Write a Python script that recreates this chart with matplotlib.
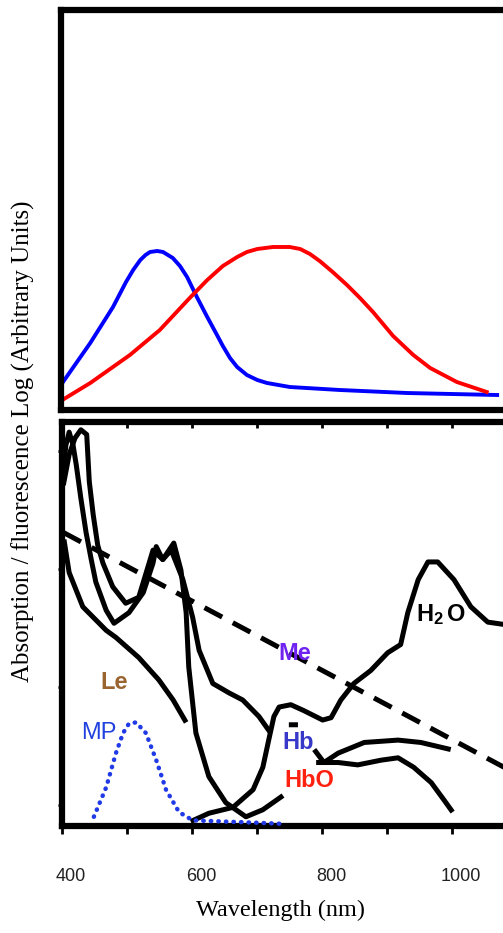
import numpy as np
import matplotlib.pyplot as plt
from matplotlib.transforms import ScaledTranslation

plt.rcParams['font.family'] = ['Liberation Sans', 'DejaVu Sans']
plt.rcParams['mathtext.fontset'] = 'custom'
plt.rcParams['mathtext.bf'] = 'Liberation Sans:bold'
plt.rcParams['mathtext.rm'] = 'Liberation Sans'

nan = np.nan

# top panel: two fluorescence emission curves (log, arbitrary units)
blue_nm = [402, 445, 480, 500, 511, 522, 530, 537, 548, 557, 572, 583, 594, 609, 625,
           640, 649, 660, 671, 686, 702, 717, 752, 829, 932, 1071]
blue_val = [0.27, 0.67, 1.03, 1.28, 1.40, 1.50, 1.55, 1.58, 1.59, 1.58, 1.52, 1.44, 1.33, 1.13, 0.93,
            0.75, 0.64, 0.52, 0.43, 0.35, 0.30, 0.27, 0.23, 0.20, 0.17, 0.15]

red_nm = [402, 445, 506, 552, 598, 625, 649, 671, 686, 702, 726, 752, 768, 783, 798, 818, 840,
          860, 880, 911, 942, 968, 1009, 1055]
red_val = [0.10, 0.27, 0.55, 0.80, 1.12, 1.30, 1.44, 1.53, 1.58, 1.61, 1.63, 1.63, 1.61, 1.56, 1.49, 1.38, 1.25,
           1.12, 0.98, 0.74, 0.55, 0.42, 0.28, 0.18]

# bottom panel: absorption spectra (log, arbitrary units), nan = break in the trace
hbo_nm = [402, 406, 411, 417, 422, 429, 437, 445, 452, 468, 480, 503, 525, 540, 545, 555, 572,
          583, 591, 595, 606, 626, 652, 683, 709, 740, nan, 791, 803, 825, 865, 917, 952, 998]
hbo_val = [2.84, 3.05, 3.16, 3.05, 2.88, 2.60, 2.31, 2.08, 1.89, 1.65, 1.54, 1.63, 1.80, 2.05, 2.19, 2.08, 2.22,
           1.99, 1.63, 1.17, 0.61, 0.24, 0.02, -0.10, -0.04, 0.08, nan, 0.36, 0.36, 0.44, 0.53, 0.55, 0.53, 0.47]

hb_nm = [402, 411, 420, 429, 438, 442, 448, 455, 463, 478, 498, 518, 534, 540, 555, 568, 586, 601, 611,
         632, 657, 678, 703, 721, nan, 749, 763, nan, 788, 803, 825, 855, 891, 917, 941, 968, 988, 1001]
hb_val = [2.71, 2.97, 3.11, 3.18, 3.14, 2.74, 2.46, 2.20, 2.05, 1.85, 1.71, 1.76, 2.05, 2.16, 2.08, 2.16, 1.91, 1.59, 1.31,
          1.03, 0.95, 0.89, 0.75, 0.61, nan, 0.68, 0.68, nan, 0.47, 0.36, 0.36, 0.34, 0.38, 0.40, 0.32, 0.19, 0.04, -0.06]

h2o_nm = [598, 626, 663, 694, 709, 718, 726, 734, 752, 772, 801, 814, 829, 849, 875, 901, 921,
          932, 948, 963, 978, 1003, 1029, 1055, 1080, 1106]
h2o_val = [-0.14, -0.07, -0.02, 0.13, 0.32, 0.55, 0.75, 0.83, 0.85, 0.80, 0.72, 0.74, 0.89, 1.03, 1.14, 1.29, 1.36,
           1.63, 1.91, 2.06, 2.06, 1.91, 1.68, 1.55, 1.53, 1.53]

le_nm = [403, 411, 432, 468, 483, 518, 549, 571, 591]
le_val = [2.25, 1.97, 1.68, 1.48, 1.42, 1.25, 1.06, 0.89, 0.70]

me_nm = [402, 1080]
me_val = [2.31, 0.32]

mp_nm = [449, 468, 483, 494, 503, 514, 529, 545, 560, 580, 601, 648, 698, 741]
mp_val = [-0.10, 0.15, 0.44, 0.61, 0.69, 0.70, 0.61, 0.38, 0.13, -0.06, -0.13, -0.14, -0.15, -0.16]

xticks = [400, 500, 600, 700, 800, 900, 1000, 1100]
xticklabels = ['400', '', '600', '', '800', '', '1000', '']

W, H = 503, 933
fig = plt.figure(figsize=(W / 100, H / 100), dpi=100)

# ---- top panel
ax1 = fig.add_axes([61 / W, 1 - 410 / H, 455 / W, 400 / H])
ax1.plot(blue_nm, blue_val, color='#0000ff', lw=2.8, solid_joinstyle='round')
ax1.plot(red_nm, red_val, color='#ff0000', lw=2.8, solid_joinstyle='round')
ax1.set_xlim(400, 1100)
ax1.set_ylim(0, 4)
ax1.set_xticks([])
ax1.set_yticks([])
for s in ax1.spines.values():
    s.set_linewidth(4.5)

# ---- bottom panel
ax2 = fig.add_axes([62 / W, 1 - 826 / H, 455 / W, 404 / H])
blk = dict(color='black', lw=3.6, solid_capstyle='butt', solid_joinstyle='round')
ax2.plot(hbo_nm, hbo_val, **blk)
ax2.plot(hb_nm, hb_val, **blk)
ax2.plot(h2o_nm, h2o_val, **blk)
ax2.plot(le_nm, le_val, **blk)
ax2.plot(me_nm, me_val, color='black', lw=3.6, linestyle=(0, (4, 2.4)), dash_capstyle='butt')
ax2.plot(mp_nm, mp_val, color='#1f3ae6', lw=3.2, linestyle=(0, (0.1, 1.6)),
         dash_capstyle='round', clip_on=False, zorder=5)

ax2.set_xlim(400, 1100)
ax2.set_ylim(-0.178, 3.246)
ax2.set_xticks(xticks)
ax2.set_xticklabels(xticklabels)
ax2.set_yticks([0, 1, 2, 3])
ax2.tick_params(axis='x', which='major', direction='out', length=6, width=2,
                labelsize=13, pad=24, colors='black', labelcolor='#222222', top=True)
ax2.tick_params(axis='y', direction='out', length=3, width=2, labelleft=False)
for s in ax2.spines.values():
    s.set_linewidth(4.5)
# top ticks point inward
for t in ax2.xaxis.get_major_ticks():
    t.tick2line.set_marker(3)
    t.tick2line.set_markersize(4)

offset = ScaledTranslation(9 / 100, 0, fig.dpi_scale_trans)
for lbl in ax2.get_xticklabels():
    lbl.set_transform(lbl.get_transform() + offset)

lab = dict(fontsize=17, fontweight='bold', ha='center', va='center')
ax2.text(480, 1.04, 'Le', color='#9a6430', **lab)
ax2.text(457, 0.61, 'MP', color='#2040e0', fontsize=17, ha='center', va='center')
ax2.text(758, 1.28, 'Me', color='#7022f0', **lab)
ax2.text(763, 0.53, 'Hb', color='#3838c8', **lab)
ax2.text(780, 0.21, 'HbO', color='#ff2010', **lab)
ax2.text(983, 1.61, r'$\mathbf{H_2\,O}$', color='black', fontsize=17, ha='center', va='center')

fig.text(280 / W, 1 - 910 / H, 'Wavelength (nm)', family='Liberation Serif',
         fontsize=17.5, ha='center', va='center')
fig.text(23 / W, 1 - 441 / H, 'Absorption / fluorescence Log (Arbitrary Units)',
         family='Liberation Serif', fontsize=18, rotation=90, ha='center', va='center')

fig.savefig('out.png', dpi=100)
